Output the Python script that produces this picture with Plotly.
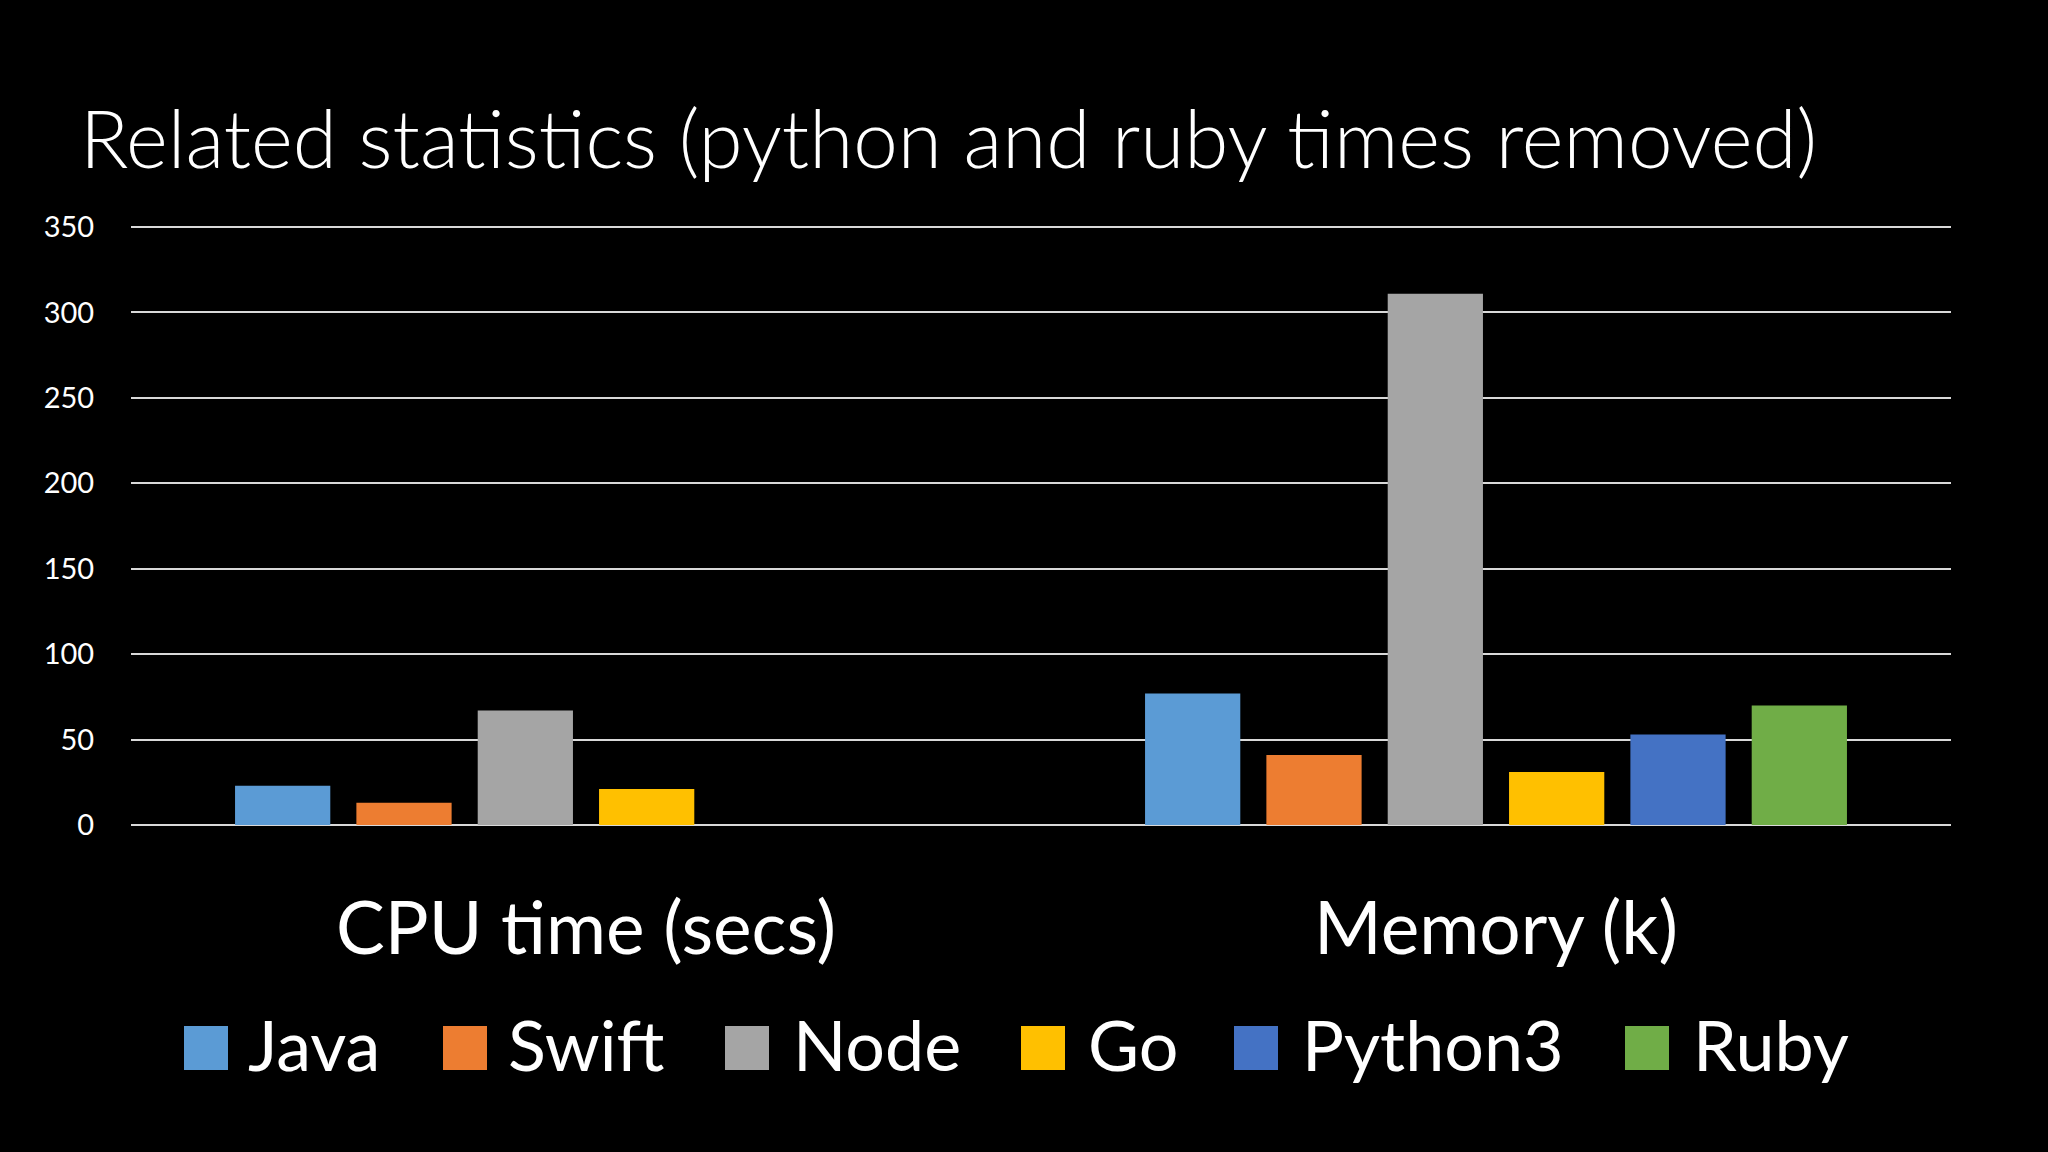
import plotly.graph_objects as go

# values
categories = ["CPU time (secs)", "Memory (k)"]
languages = ["Java", "Swift", "Node", "Go", "Python3", "Ruby"]
colors = ["#5B9BD5", "#ED7D31", "#A5A5A5", "#FFC000", "#4472C4", "#70AD47"]
cpu_time = [23, 13, 67, 21, None, None]   # python and ruby times removed
memory = [77, 41, 311, 31, 53, 70]
y_ticks = [0, 50, 100, 150, 200, 250, 300, 350]

W, H = 2048, 1152
L, R, T, B = 131, 97, 226, 327

FONT = "Lato"


def px(x):
    return (x - L) / (W - L - R)


def py(y):
    return 1 - (y - T) / (H - T - B)


fig = go.Figure()
for i, lang in enumerate(languages):
    fig.add_trace(go.Bar(
        name=lang,
        x=categories,
        y=[cpu_time[i], memory[i]],
        marker=dict(color=colors[i], line=dict(width=0)),
        showlegend=False,
    ))

# legend drawn as big squares + labels like the slide
sq_left = [184, 443, 725, 1021, 1234, 1625]
txt_left = [246, 506, 791, 1086, 1300, 1691]
sq = 44
base = 1070
shapes = []
annotations = []
for i, lang in enumerate(languages):
    shapes.append(dict(
        type="rect", xref="paper", yref="paper",
        x0=px(sq_left[i]), x1=px(sq_left[i] + sq),
        y0=py(base), y1=py(base - sq),
        fillcolor=colors[i], line=dict(width=0),
    ))
    annotations.append(dict(
        text=lang, xref="paper", yref="paper",
        x=px(txt_left[i]), y=py(1044),
        xanchor="left", yanchor="middle", showarrow=False,
        font=dict(family=FONT, size=70, color="white"),
    ))

fig.update_layout(
    width=W, height=H,
    margin=dict(l=L, r=R, t=T, b=B),
    paper_bgcolor="black",
    plot_bgcolor="black",
    barmode="group",
    bargap=0.2,
    bargroupgap=0.215,
    title=dict(
        text="Related statistics (python and ruby times removed)",
        x=80 / W, xanchor="left",
        y=1 - 140 / H, yanchor="middle",
        font=dict(family=FONT, size=80, color="white", weight=300),
    ),
    xaxis=dict(
        showgrid=False, showline=False, zeroline=False,
        ticks="outside", ticklen=40, tickcolor="rgba(0,0,0,0)",
        tickfont=dict(family=FONT, size=73, color="white"),
    ),
    yaxis=dict(
        range=[0, 350.6], tickvals=y_ticks,
        showgrid=True, gridcolor="#D9D9D9", gridwidth=2,
        zeroline=True, zerolinecolor="#D9D9D9", zerolinewidth=2,
        showline=False,
        ticks="outside", ticklen=30, tickcolor="rgba(0,0,0,0)",
        tickfont=dict(family=FONT, size=29, color="white"),
    ),
    shapes=shapes,
    annotations=annotations,
)

fig.write_html(
    "out.html",
    config={"displayModeBar": False},
    post_script="document.body.style.margin='0';document.body.style.background='black';",
)
